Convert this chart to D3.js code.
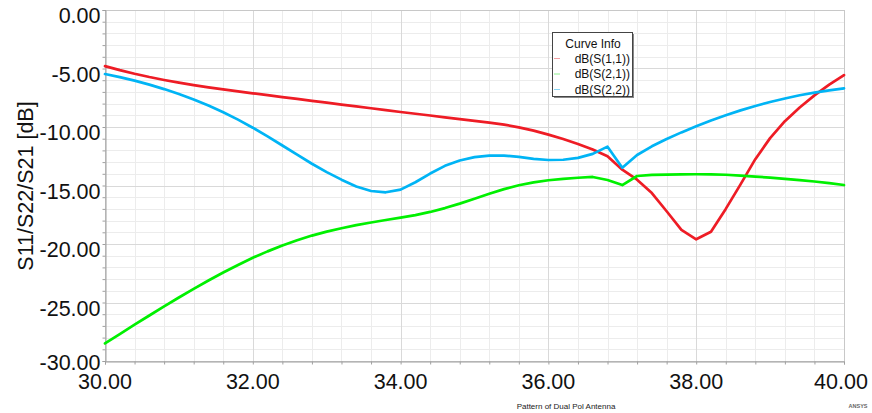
<!DOCTYPE html>
<html><head><meta charset="utf-8">
<script src="https://cdn.jsdelivr.net/npm/d3@7"></script>
<style>
html,body{margin:0;padding:0;background:#fff;}
svg{display:block;font-family:"Liberation Sans",Arial,sans-serif;}
</style></head>
<body><svg id="c" width="872" height="413"></svg>
<script>
const freq = [30.0,30.2,30.4,30.6,30.8,31.0,31.2,31.4,31.6,31.8,32.0,32.2,32.4,32.6,32.8,33.0,33.2,33.4,33.6,33.8,34.0,34.2,34.4,34.6,34.8,35.0,35.2,35.4,35.6,35.8,36.0,36.2,36.4,36.6,36.8,37.0,37.2,37.4,37.6,37.8,38.0,38.2,38.4,38.6,38.8,39.0,39.2,39.4,39.6,39.8,40.0];
const s11 = [-4.80,-5.14,-5.45,-5.73,-5.98,-6.21,-6.42,-6.61,-6.79,-6.96,-7.12,-7.28,-7.44,-7.60,-7.76,-7.92,-8.08,-8.24,-8.40,-8.56,-8.72,-8.87,-9.02,-9.17,-9.32,-9.47,-9.63,-9.80,-10.03,-10.31,-10.65,-11.03,-11.45,-11.93,-12.50,-13.65,-14.50,-15.65,-17.20,-18.80,-19.60,-18.95,-17.00,-14.90,-12.75,-10.95,-9.50,-8.33,-7.30,-6.38,-5.56];
const s21 = [-28.50,-27.70,-26.90,-26.11,-25.33,-24.57,-23.83,-23.12,-22.44,-21.79,-21.17,-20.63,-20.13,-19.68,-19.28,-18.94,-18.65,-18.39,-18.16,-17.95,-17.75,-17.53,-17.26,-16.93,-16.55,-16.13,-15.70,-15.31,-14.98,-14.73,-14.55,-14.43,-14.34,-14.27,-14.53,-14.96,-14.19,-14.10,-14.07,-14.05,-14.04,-14.05,-14.08,-14.15,-14.24,-14.33,-14.43,-14.54,-14.66,-14.80,-14.96];
const s22 = [-5.47,-5.74,-6.04,-6.38,-6.76,-7.18,-7.65,-8.17,-8.74,-9.37,-10.06,-10.80,-11.58,-12.37,-13.14,-13.86,-14.50,-15.08,-15.47,-15.58,-15.35,-14.72,-13.98,-13.32,-12.86,-12.58,-12.45,-12.44,-12.56,-12.72,-12.82,-12.80,-12.64,-12.30,-11.68,-13.48,-12.39,-11.65,-11.02,-10.46,-9.94,-9.45,-9.00,-8.58,-8.20,-7.86,-7.56,-7.29,-7.06,-6.87,-6.70];
const seriesNames = ["dB(S(1,1))","dB(S(2,1))","dB(S(2,2))"];
const seriesColors = ["#ee1c25","#00f000","#00b4f5"];
const legendColors = ["#f4a0a4","#8ef08e","#8ad6f5"];
const xTicks = [30,32,34,36,38,40];
const yTicks = [0,-5,-10,-15,-20,-25,-30];
const yLabel = "S11/S22/S21 [dB]";
const footer = "Pattern of Dual Pol Antenna";
const legendTitle = "Curve Info";

const svg = d3.select("#c");
const L=105, R=844, T=10, B=361;
const x = d3.scaleLinear().domain([30,40]).range([L,R]);
const y = d3.scaleLinear().domain([-30,0]).range([B,T]);

// grid
const minorX = d3.range(30,40.001,0.4);
const minorY = d3.range(-30,0.001,1);
const g = svg.append("g");
g.selectAll(".mx").data(minorX).enter().append("line")
 .attr("x1",d=>Math.round(x(d))+0.5).attr("x2",d=>Math.round(x(d))+0.5).attr("y1",T).attr("y2",B)
 .attr("stroke","#ececec").attr("stroke-width",1);
g.selectAll(".my").data(minorY).enter().append("line")
 .attr("y1",d=>Math.round(y(d))+0.5).attr("y2",d=>Math.round(y(d))+0.5).attr("x1",L).attr("x2",R)
 .attr("stroke","#ececec").attr("stroke-width",1);
g.selectAll(".Mx").data(xTicks).enter().append("line")
 .attr("x1",d=>Math.round(x(d))+0.5).attr("x2",d=>Math.round(x(d))+0.5).attr("y1",T).attr("y2",B)
 .attr("stroke","#d9d9d9").attr("stroke-width",1);
g.selectAll(".My").data(yTicks).enter().append("line")
 .attr("y1",d=>Math.round(y(d))+0.5).attr("y2",d=>Math.round(y(d))+0.5).attr("x1",L).attr("x2",R)
 .attr("stroke","#d9d9d9").attr("stroke-width",1);

// frame
svg.append("rect").attr("x",L+0.5).attr("y",T+0.5).attr("width",R-L).attr("height",B-T)
 .attr("fill","none").attr("stroke","#c8c8c8");
// axes
const xAxis = d3.axisBottom(x).tickValues(minorX).tickSize(3).tickFormat("");
const yAxis = d3.axisLeft(y).tickValues(minorY).tickSize(3).tickFormat("");
svg.append("g").attr("transform",`translate(0,${B+0.5})`).call(xAxis)
 .call(s=>s.selectAll("line,path").attr("stroke","#a0a0a0"));
svg.append("g").attr("transform",`translate(${L+0.5},0)`).call(yAxis)
 .call(s=>s.selectAll("line,path").attr("stroke","#a0a0a0"));

// tick labels (plain hyphen minus)
svg.selectAll(".yl").data(yTicks).enter().append("text")
 .attr("x",100.5).attr("y",d=>y(d)+(d===-30?1.5:5.5)).attr("dy","0.35em")
 .attr("text-anchor","end").attr("font-size","21.5px").attr("fill","#111")
 .text(d=>d.toFixed(2));
svg.selectAll(".xl").data(xTicks).enter().append("text")
 .attr("x",d=>x(d)+(d===40?-3:0)).attr("y",381).attr("dy","0.35em")
 .attr("text-anchor","middle").attr("font-size","21.5px").attr("fill","#111")
 .text(d=>d.toFixed(2));

// y label
svg.append("text").attr("transform","translate(25,186) rotate(-90)")
 .attr("text-anchor","middle").attr("dy","0.35em").attr("font-size","21.5px").attr("fill","#111")
 .text(yLabel);

// lines
const line = d3.line().x((d,i)=>x(freq[i])).y(d=>y(d));
[s11,s21,s22].forEach((s,k)=>{
  svg.append("path").datum(s).attr("d",line).attr("fill","none")
   .attr("stroke",seriesColors[k]).attr("stroke-width",2.7)
   .attr("stroke-linejoin","round").attr("stroke-linecap","round");
});

// legend
const lg = svg.append("g");
lg.append("rect").attr("x",554).attr("y",34).attr("width",80).attr("height",64).attr("fill","#888");
lg.append("rect").attr("x",552.5).attr("y",32.5).attr("width",80).attr("height",64)
 .attr("fill","#fff").attr("stroke","#444");
lg.append("text").attr("x",593).attr("y",43.5).attr("dy","0.35em").attr("text-anchor","middle")
 .attr("font-size","12px").attr("fill","#111").text(legendTitle);
seriesNames.forEach((n,k)=>{
  const yy = 58.5 + k*15.5;
  lg.append("line").attr("x1",554).attr("x2",560).attr("y1",yy).attr("y2",yy)
   .attr("stroke",legendColors[k]).attr("stroke-width",1);
  lg.append("text").attr("x",630).attr("y",yy).attr("dy","0.35em").attr("text-anchor","end")
   .attr("font-size","12px").attr("fill","#111").text(n);
});

// footer
svg.append("text").attr("x",566).attr("y",406).attr("dy","0.35em").attr("text-anchor","middle")
 .attr("font-size","8px").attr("fill","#222").text(footer);
svg.append("text").attr("x",858).attr("y",406).attr("dy","0.35em").attr("text-anchor","middle")
 .attr("font-size","5.5px").attr("font-weight","bold").attr("fill","#666").text("ANSYS");
</script></body></html>
